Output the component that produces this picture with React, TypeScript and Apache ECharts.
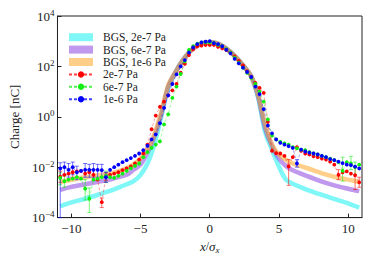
import React, { useEffect, useRef } from "react";
import * as echarts from "echarts";

// measured positions (x / sigma_x)
const xData = [-10.8,-10.5,-10.2,-9.9,-9.6,-9.3,-9.0,-8.7,-8.4,-8.1,-7.8,-7.5,-7.2,-6.9,-6.6,-6.3,-6.0,-5.7,-5.4,-5.1,-4.8,-4.5,-4.2,-3.9,-3.6,-3.3,-3.0,-2.7,-2.4,-2.1,-1.8,-1.5,-1.2,-0.9,-0.6,-0.3,0,0.3,0.6,0.9,1.2,1.5,1.8,2.1,2.4,2.7,3.0,3.3,3.6,3.9,4.2,4.5,4.8,5.1,5.4,5.7,6.0,6.3,6.6,6.9,7.2,7.5,7.8,8.1,8.4,8.7,9.0,9.3,9.6,9.9,10.2,10.5,10.8];

// measured charge [nC]
const q2e7 = [4.2e-3,5.0e-3,5.6e-3,6.3e-3,6.8e-3,7.1e-3,5.6e-3,6.3e-3,5.0e-3,3.2e-3,4.1e-4,4.2e-3,
  5.0e-3,5.6e-3,6.3e-3,7.6e-3,8.9e-3,1.07e-2,1.4e-2,2.0e-2,3.5e-2,7.9e-2,0.32,
  1.12,2.5,4.0,7.1,11.2,20,56,126,282,479,631,676,708,
  708,
  708,603,525,447,355,251,166,110,63,38,22,14,8.9,
  0.63,4.5e-2,3.6e-2,3.5e-2,2.8e-2,1.07e-2,2.5e-2,6.3e-2,4.5e-2,3.5e-2,3.2e-2,2.7e-2,2.5e-2,2.2e-2,2.0e-2,1.66e-2,1.26e-2,5.0e-3,6.3e-3,6.8e-3,5.6e-3,4.8e-3,2.5e-3];

const q6e7 = [3.8e-3,2.8e-3,3.2e-3,3.5e-3,4.0e-3,3.5e-3,1.4e-3,5.6e-4,3.2e-3,3.5e-3,4.0e-3,4.5e-3,
  4.0e-3,3.8e-3,4.5e-3,5.6e-3,7.1e-3,8.9e-3,1.12e-2,1.4e-2,2.5e-2,4.0e-2,5.8e-2,
  7.9e-2,0.105,0.5,1.26,5.6,15.8,50,158,447,631,794,891,891,
  891,
  832,708,631,479,355,224,141,89,56,35,20,10,4.0,
  0.79,0.18,0.126,0.1,8.9e-2,7.9e-2,6.3e-2,5.6e-2,5.0e-2,4.7e-2,4.0e-2,3.5e-2,3.2e-2,2.8e-2,2.5e-2,2.2e-2,1.9e-2,1.58e-2,7.2e-3,1.58e-2,1.4e-2,1.0e-2,1.26e-2];

const q1e6 = [8.9e-3,1.0e-2,7.9e-3,1.0e-2,6.3e-3,7.1e-3,7.9e-3,7.9e-3,7.9e-3,7.9e-3,7.6e-3,4.0e-3,
  7.9e-3,1.0e-2,1.26e-2,1.58e-2,1.9e-2,2.3e-2,2.8e-2,3.5e-2,4.7e-2,7.1e-2,0.126,
  0.2,0.56,2.24,7.1,20,48,100,178,355,562,759,891,955,
  1000,
  832,759,631,457,331,200,132,89,60,38,15.8,7.9,2.0,
  0.45,0.22,0.126,9.3e-2,7.9e-2,6.8e-2,5.8e-2,1.4e-2,5.0e-2,4.2e-2,3.8e-2,3.5e-2,3.2e-2,2.8e-2,2.5e-2,2.1e-2,1.9e-2,1.66e-2,1.45e-2,1.26e-2,1.2e-2,1.05e-2,8.9e-3];

// error bars [x, low, high]
const err2e7 = [[-10.8,2.5e-3,7e-3],[-9.9,4e-3,1e-2],[-8.4,3e-3,8e-3],[-7.8,2.5e-4,6e-4],[-7.5,3e-3,6e-3],[5.7,1.9e-3,2.0e-2],[9.3,3.2e-3,8e-3],[10.5,1.3e-3,1e-2],[10.8,1.6e-3,4e-3]];
const err6e7 = [[-10.8,2e-3,6e-3],[-10.5,1.6e-3,4.5e-3],[-9.0,5e-4,3.2e-3],[-8.7,1.6e-4,1.5e-3],[-7.5,2.5e-3,7e-3],[9.6,2.8e-3,2.5e-2],[10.2,8e-3,2.7e-2],[10.5,5e-3,1.6e-2]];
const err1e6 = [[-10.8,1e-4,1.5e-2],[-10.5,5e-3,1.6e-2],[-10.2,4e-3,1.4e-2],[-9.9,5e-3,1.6e-2],[-9.6,3.2e-3,1.1e-2],[-9.0,4e-3,1.4e-2],[-8.7,4e-3,1.3e-2],[-8.4,4e-3,1.4e-2],[-8.1,4e-3,1.3e-2],[-7.8,4e-3,1.3e-2],[-7.5,2.5e-3,6.3e-3],[6.3,1e-2,2e-2]];

// BGS simulation curves
const xBgs = [-10.8,-10,-9,-8,-7,-6,-5.5,-5,-4.5,-4,-3.5,-3,-2.5,-2,-1.5,-1,-0.5,0,0.5,1,1.5,2,2.5,3,3.5,4,4.5,5,5.5,6,7,8,9,10,10.8];
const bgs2e7 = [2.8e-4,4.0e-4,5.6e-4,8.3e-4,1.26e-3,2.1e-3,2.8e-3,5.0e-3,1.4e-2,7.9e-2,1.0,14,56,158,355,603,832,912,832,603,372,200,95,40,5.6,0.25,4.9e-2,1.05e-2,3.2e-3,2.2e-3,1.3e-3,8.3e-4,5.5e-4,3.7e-4,2.5e-4];
const bgs6e7 = [1.26e-3,1.66e-3,2.1e-3,2.7e-3,3.5e-3,5.0e-3,7.9e-3,1.26e-2,3.8e-2,0.16,1.26,16,56,158,355,603,832,912,832,603,372,200,95,40,6.3,0.35,7.1e-2,2.2e-2,1.12e-2,7.6e-3,4.5e-3,2.8e-3,1.9e-3,1.4e-3,1.12e-3];
const bgs1e6 = [2.6e-3,3.2e-3,4.0e-3,4.8e-3,5.9e-3,9.3e-3,1.3e-2,2.2e-2,5.0e-2,0.2,1.58,18,56,158,355,603,832,912,832,603,372,200,95,40,7.1,0.5,7.9e-2,3.2e-2,2.0e-2,1.4e-2,9.3e-3,6.0e-3,4.2e-3,3.2e-3,2.6e-3];

const xTicks = [-10, -5, 0, 5, 10];
const yTicks = [1e-4, 1e-2, 1, 1e2, 1e4];

const FONT = "'Liberation Serif', 'DejaVu Serif', serif";

function errSeries(name: string, data: number[][], color: string) {
  return {
    type: "custom",
    name,
    data,
    z: 3,
    silent: true,
    encode: { x: 0, y: [1, 2] },
    renderItem: (params: any, api: any) => {
      const x = api.value(0);
      const p1 = api.coord([x, api.value(1)]);
      const p2 = api.coord([x, api.value(2)]);
      const st = { stroke: color, lineWidth: 0.8, opacity: 0.7 };
      return {
        type: "group",
        children: [
          { type: "line", shape: { x1: p1[0], y1: p1[1], x2: p2[0], y2: p2[1] }, style: st },
          { type: "line", shape: { x1: p1[0] - 2, y1: p1[1], x2: p1[0] + 2, y2: p1[1] }, style: st },
          { type: "line", shape: { x1: p2[0] - 2, y1: p2[1], x2: p2[0] + 2, y2: p2[1] }, style: st },
        ],
      };
    },
  };
}

function dataSeries(name: string, ys: number[], color: string) {
  return {
    type: "line",
    name,
    data: xData.map((x, i) => [x, ys[i]]),
    color,
    z: 4,
    symbol: "circle",
    symbolSize: 3.8,
    lineStyle: { width: 0.5, type: [3, 2], color, opacity: 0.75 },
    itemStyle: { color },
  };
}

function bgsSeries(name: string, ys: number[], color: string) {
  return {
    type: "line",
    name,
    data: xBgs.map((x, i) => [x, ys[i]]),
    color,
    z: 2,
    smooth: 0.3,
    showSymbol: false,
    symbol: "none",
    lineStyle: { width: 4.5, color },
  };
}

export default function App() {
  const ref = useRef<HTMLDivElement>(null);
  useEffect(() => {
    if (!ref.current) return;
    const chart = echarts.init(ref.current, undefined, { renderer: "svg" });
    const cCyan = "rgba(0,240,240,0.5)";
    const cPurple = "rgba(130,50,220,0.5)";
    const cOrange = "rgba(255,160,20,0.5)";
    const cRed = "#ff0000";
    const cGreen = "#11ee11";
    const cBlue = "#0000ff";
    chart.setOption({
      animation: false,
      backgroundColor: "#ffffff",
      textStyle: { fontFamily: FONT },
      grid: { left: 53, right: 12, top: 16, bottom: 41, show: true, borderColor: "#222", borderWidth: 1 },
      legend: {
        orient: "vertical",
        left: 63,
        top: 26,
        itemWidth: 24,
        itemHeight: 8,
        itemGap: 0,
        textStyle: { fontFamily: FONT, fontSize: 11.5, color: "#222", lineHeight: 12.4, padding: [0, 0, 0, 5] },
        data: [
          { name: "BGS, 2e-7 Pa", icon: "rect" },
          { name: "BGS, 6e-7 Pa", icon: "rect" },
          { name: "BGS, 1e-6 Pa", icon: "rect" },
          { name: "2e-7 Pa" },
          { name: "6e-7 Pa" },
          { name: "1e-6 Pa" },
        ],
      },
      xAxis: {
        type: "value",
        min: -11,
        max: 11,
        name: "{i|x}/{i|σ}{s|x}",
        nameLocation: "middle",
        nameGap: 13,
        nameTextStyle: {
          rich: {
            i: { fontFamily: FONT, fontStyle: "italic", fontSize: 13, color: "#222", lineHeight: 16 },
            s: { fontFamily: FONT, fontStyle: "italic", fontSize: 9, color: "#222", verticalAlign: "bottom", lineHeight: 11 },
          },
        },
        axisLine: { show: true, onZero: false, lineStyle: { color: "#222", width: 1 } },
        axisTick: { show: true, inside: true, length: 4, customValues: xTicks, lineStyle: { color: "#222" } },
        axisLabel: {
          customValues: xTicks,
          margin: 4,
          fontFamily: FONT,
          fontSize: 13,
          color: "#222",
          formatter: (v: number) => (v < 0 ? "−" + Math.abs(v) : String(v)),
        },
        splitLine: { show: false },
      },
      yAxis: {
        type: "log",
        logBase: 10,
        min: 1e-4,
        max: 1e4,
        name: "Charge [nC]",
        nameLocation: "middle",
        nameGap: 33,
        nameTextStyle: { fontFamily: FONT, fontSize: 13, color: "#222" },
        axisLine: { show: true, onZero: false, lineStyle: { color: "#222", width: 1 } },
        axisTick: { show: true, inside: true, length: 4, customValues: yTicks, lineStyle: { color: "#222" } },
        axisLabel: {
          customValues: yTicks,
          margin: 3,
          color: "#222",
          formatter: (v: number) => {
            const e = Math.round(Math.log10(v));
            return "{b|10}{s|" + (e < 0 ? "−" + -e : String(e)) + "}";
          },
          rich: {
            b: { fontFamily: FONT, fontSize: 13, color: "#222", lineHeight: 16 },
            s: { fontFamily: FONT, fontSize: 9, color: "#222", verticalAlign: "top", lineHeight: 9 },
          },
        },
        splitLine: { show: false },
      },
      series: [
        bgsSeries("BGS, 2e-7 Pa", bgs2e7, cCyan),
        bgsSeries("BGS, 6e-7 Pa", bgs6e7, cPurple),
        bgsSeries("BGS, 1e-6 Pa", bgs1e6, cOrange),
        dataSeries("2e-7 Pa", q2e7, cRed),
        errSeries("2e-7 Pa", err2e7, cRed),
        dataSeries("6e-7 Pa", q6e7, cGreen),
        errSeries("6e-7 Pa", err6e7, cGreen),
        dataSeries("1e-6 Pa", q1e6, cBlue),
        errSeries("1e-6 Pa", err1e6, cBlue),
      ],
    });
    return () => chart.dispose();
  }, []);
  return <div ref={ref} style={{ position: "absolute", left: 0, top: 0, width: 374, height: 259 }} />;
}
